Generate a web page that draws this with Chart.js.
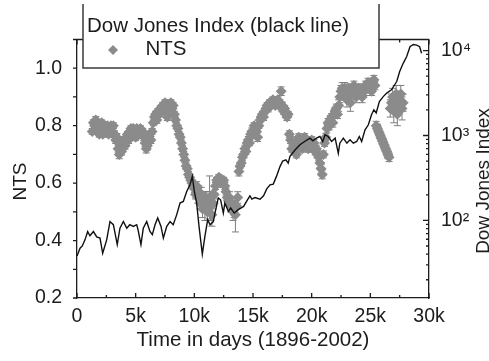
<!DOCTYPE html>
<html>
<head>
<meta charset="utf-8">
<script src="https://cdn.jsdelivr.net/npm/chart.js@4/dist/chart.umd.min.js"></script>
<style>
    html, body { margin: 0; padding: 0; background: #fff; }
    #myChart { display: block; }
</style>
</head>
<body>
<canvas id="myChart" width="489" height="361"></canvas>
<script>

// Dow Jones Index (right, log axis), trading days since 1896
var dowDays = [0, 260, 450, 680, 910, 1100, 1400, 1680, 1960, 2190, 2530, 2810, 3100, 3430, 3660, 3950, 4240, 4500, 4800, 5090,
    5200, 5450, 5650, 5940, 6220, 6420, 6650, 6880, 7160, 7360, 7650, 7930, 8200, 8500, 8780, 9060, 9350, 9630, 9830, 10000,
    10200, 10400, 10680, 10900, 11140, 11340, 11620, 11760, 12040, 12240, 12470, 12600, 12900, 13100, 13400, 13750, 14200, 14500, 14740, 14900,
    15170, 15600, 15900, 16170, 16450, 16730, 17000, 17300, 17530, 17800, 18000, 18150, 18600, 19000, 19400, 19860, 20100, 20400, 20700, 20940,
    21140, 21400, 21700, 22000, 22270, 22400, 22700, 23000, 23270, 23550, 23840, 24060, 24260, 24550, 24830, 25100, 25300, 25500, 25770, 26100,
    26400, 26800, 27250, 27500, 27800, 28100, 28380, 28660, 28950, 29200, 29370];
var dowValues = [38, 47, 50, 59, 74, 66, 74, 64, 62, 41, 59, 97, 89, 52, 81, 97, 81, 89, 85, 89,
    78, 52, 81, 97, 74, 68, 89, 107, 85, 62, 85, 97, 89, 117, 160, 167, 219, 263, 330, 219,
    160, 85, 40, 65, 102, 89, 97, 122, 184, 175, 122, 160, 128, 140, 122, 134, 146, 172, 195, 178,
    186, 178, 195, 235, 262, 268, 330, 430, 500, 518, 473, 567, 679, 778, 850, 930, 866, 930, 973, 850,
    1019, 973, 850, 930, 617, 812, 930, 812, 890, 812, 850, 973, 850, 1167, 1336, 1752, 2006, 1840, 2510, 2870,
    3160, 3450, 4320, 5670, 7080, 8500, 11100, 11800, 11600, 11100, 9300];

// NTS (left axis) with error bars
var ntsDays = [1300, 1400, 1500, 1600, 1700, 1800, 1900, 2000, 2100, 2200, 2300, 2400, 2500, 2600, 2700, 2800, 2900, 3000, 3100, 3200,
    3300, 3400, 3500, 3600, 3700, 3800, 3900, 4000, 4100, 4200, 4300, 4400, 4500, 4600, 4700, 4800, 4900, 5000, 5100, 5200,
    5300, 5400, 5500, 5600, 5700, 5800, 5900, 6000, 6100, 6200, 6300, 6400, 6500, 6600, 6700, 6800, 6900, 7000, 7100, 7200,
    7300, 7400, 7500, 7600, 7700, 7800, 7900, 8000, 8100, 8200, 8300, 8400, 8500, 8600, 8700, 8800, 8900, 9000, 9100, 9200,
    9300, 9400, 9500, 9600, 9700, 9800, 9900, 10000, 10100, 10200, 10300, 10400, 10500, 10600, 10700, 10800, 10900, 11000, 11100, 11200,
    11300, 11400, 11500, 11600, 11700, 11800, 11900, 12000, 12100, 12200, 12300, 12400, 12500, 12600, 12700, 12800, 12900, 13000, 13100, 13200,
    13300, 13400, 13500, 13600, 13700, 13800, 13900, 14000, 14100, 14200, 14300, 14400, 14500, 14600, 14700, 14800, 14900, 15000, 15100, 15200,
    15300, 15400, 15500, 15600, 15700, 15800, 15900, 16000, 16100, 16200, 16300, 16400, 16500, 16600, 16700, 16800, 16900, 17000, 17100, 17200,
    17300, 17400, 17500, 17600, 17700, 17800, 17900, 18000, 18100, 18200, 18300, 18400, 18500, 18600, 18700, 18800, 18900, 19000, 19100, 19200,
    19300, 19400, 19500, 19600, 19700, 19800, 19900, 20000, 20100, 20200, 20300, 20400, 20500, 20600, 20700, 20800, 20900, 21000, 21100, 21200,
    21300, 21400, 21500, 21600, 21700, 21800, 21900, 22000, 22100, 22200, 22300, 22400, 22500, 22600, 22700, 22800, 22900, 23000, 23100, 23200,
    23300, 23400, 23500, 23600, 23700, 23800, 23900, 24000, 24100, 24200, 24300, 24400, 24500, 24600, 24700, 24800, 24900, 25000, 25100, 25200,
    25300, 25400, 25500, 25600, 25700, 25800, 25900, 26000, 26100, 26200, 26300, 26400, 26500, 26600, 26700, 26800, 26900, 27000, 27100, 27200,
    27300, 27400, 27500, 27600, 27700, 27800];
var ntsValues = [0.78, 0.81, 0.80, 0.82, 0.78, 0.80, 0.77, 0.79, 0.81, 0.77, 0.79, 0.80, 0.78, 0.80, 0.77, 0.79, 0.80, 0.78, 0.80, 0.77,
    0.75, 0.76, 0.72, 0.70, 0.73, 0.71, 0.74, 0.75, 0.73, 0.76, 0.77, 0.75, 0.78, 0.79, 0.77, 0.79, 0.78, 0.76, 0.79, 0.78,
    0.77, 0.79, 0.77, 0.78, 0.76, 0.74, 0.72, 0.73, 0.76, 0.77, 0.75, 0.78, 0.81, 0.83, 0.84, 0.82, 0.85, 0.84, 0.86, 0.85,
    0.87, 0.86, 0.88, 0.85, 0.83, 0.86, 0.87, 0.88, 0.86, 0.87, 0.84, 0.82, 0.80, 0.79, 0.77, 0.76, 0.74, 0.72, 0.70, 0.68,
    0.66, 0.65, 0.63, 0.62, 0.61, 0.60, 0.59, 0.58, 0.56, 0.59, 0.55, 0.57, 0.53, 0.56, 0.51, 0.54, 0.52, 0.55, 0.50, 0.54,
    0.55, 0.52, 0.49, 0.53, 0.56, 0.59, 0.61, 0.60, 0.62, 0.60, 0.61, 0.60, 0.61, 0.59, 0.57, 0.55, 0.54, 0.55, 0.52, 0.53,
    0.50, 0.51, 0.49, 0.52, 0.55, 0.64, 0.66, 0.67, 0.69, 0.70, 0.72, 0.71, 0.74, 0.75, 0.74, 0.77, 0.78, 0.77, 0.80, 0.79,
    0.78, 0.76, 0.80, 0.82, 0.83, 0.84, 0.83, 0.85, 0.86, 0.87, 0.86, 0.88, 0.87, 0.88, 0.89, 0.88, 0.87, 0.88, 0.89, 0.87,
    0.88, 0.92, 0.87, 0.85, 0.86, 0.84, 0.83, 0.84, 0.77, 0.75, 0.72, 0.74, 0.71, 0.73, 0.70, 0.74, 0.76, 0.73, 0.75, 0.72,
    0.74, 0.76, 0.73, 0.75, 0.72, 0.74, 0.73, 0.75, 0.72, 0.74, 0.71, 0.72, 0.70, 0.69, 0.67, 0.65, 0.63, 0.70, 0.74, 0.76,
    0.79, 0.81, 0.80, 0.82, 0.83, 0.81, 0.84, 0.85, 0.86, 0.84, 0.87, 0.90, 0.92, 0.93, 0.91, 0.93, 0.92, 0.89, 0.93, 0.92,
    0.88, 0.91, 0.93, 0.94, 0.92, 0.90, 0.92, 0.93, 0.91, 0.92, 0.90, 0.93, 0.92, 0.94, 0.93, 0.95, 0.93, 0.94, 0.92, 0.95,
    0.96, 0.94, 0.80, 0.79, 0.78, 0.77, 0.76, 0.75, 0.74, 0.73, 0.72, 0.71, 0.70, 0.69, 0.86, 0.88, 0.90, 0.85, 0.88, 0.91,
    0.84, 0.87, 0.89, 0.91, 0.86, 0.88];
var ntsErrors = [0.010, 0.010, 0.010, 0.012, 0.010, 0.010, 0.010, 0.010, 0.010, 0.010, 0.012, 0.010, 0.010, 0.010, 0.010, 0.010, 0.010, 0.010, 0.010, 0.012,
    0.012, 0.012, 0.012, 0.015, 0.012, 0.012, 0.012, 0.010, 0.012, 0.010, 0.010, 0.012, 0.010, 0.010, 0.012, 0.010, 0.010, 0.012, 0.010, 0.010,
    0.012, 0.010, 0.012, 0.010, 0.012, 0.012, 0.015, 0.015, 0.010, 0.010, 0.012, 0.010, 0.010, 0.010, 0.010, 0.012, 0.010, 0.010, 0.010, 0.012,
    0.010, 0.010, 0.010, 0.010, 0.012, 0.010, 0.010, 0.010, 0.012, 0.010, 0.010, 0.010, 0.010, 0.010, 0.010, 0.010, 0.010, 0.010, 0.010, 0.010,
    0.010, 0.010, 0.010, 0.010, 0.010, 0.010, 0.012, 0.012, 0.015, 0.015, 0.020, 0.020, 0.020, 0.025, 0.030, 0.030, 0.050, 0.020, 0.030, 0.020,
    0.075, 0.050, 0.040, 0.020, 0.015, 0.012, 0.010, 0.010, 0.010, 0.010, 0.010, 0.010, 0.010, 0.012, 0.012, 0.015, 0.015, 0.020, 0.020, 0.020,
    0.030, 0.030, 0.060, 0.030, 0.020, 0.015, 0.010, 0.010, 0.012, 0.010, 0.012, 0.010, 0.010, 0.012, 0.010, 0.010, 0.012, 0.010, 0.010, 0.012,
    0.010, 0.015, 0.010, 0.010, 0.010, 0.010, 0.012, 0.010, 0.010, 0.010, 0.012, 0.010, 0.010, 0.012, 0.010, 0.010, 0.010, 0.012, 0.010, 0.010,
    0.010, 0.015, 0.012, 0.010, 0.010, 0.012, 0.012, 0.010, 0.012, 0.012, 0.012, 0.012, 0.012, 0.012, 0.012, 0.012, 0.012, 0.012, 0.012, 0.012,
    0.012, 0.012, 0.012, 0.012, 0.012, 0.012, 0.012, 0.012, 0.012, 0.012, 0.012, 0.012, 0.012, 0.012, 0.015, 0.015, 0.015, 0.012, 0.012, 0.012,
    0.015, 0.015, 0.015, 0.015, 0.012, 0.015, 0.015, 0.015, 0.015, 0.015, 0.020, 0.020, 0.020, 0.020, 0.020, 0.020, 0.020, 0.025, 0.015, 0.020,
    0.030, 0.020, 0.015, 0.015, 0.020, 0.020, 0.020, 0.015, 0.015, 0.015, 0.020, 0.015, 0.015, 0.015, 0.015, 0.015, 0.015, 0.015, 0.015, 0.015,
    0.015, 0.015, 0.015, 0.015, 0.015, 0.015, 0.015, 0.015, 0.015, 0.015, 0.015, 0.015, 0.015, 0.015, 0.030, 0.030, 0.030, 0.040, 0.030, 0.030,
    0.040, 0.030, 0.030, 0.030, 0.040, 0.030];

// tick labels
var xTickLabels = ['0', '5k', '10k', '15k', '20k', '25k', '30k'];
var dowTickLabels = ['10\u00B2', '10\u00B3', '10\u2074']; // 100, 1000, 10000

var fontFamily = "'Liberation Sans', Arial, Helvetica, sans-serif";
var ink = '#1c1c1c';
var ntsGray = '#8b8b8b';

var dowPoints = dowDays.map(function(d, i) {
    return {x: d, y: dowValues[i]};
});
var ntsPoints = ntsDays.map(function(d, i) {
    return {x: d, y: ntsValues[i]};
});

// error bars under the diamonds
var errorBars = {
    id: 'errorBars',
    beforeDatasetsDraw: function(chart) {
        var ctx = chart.ctx;
        var xs = chart.scales.x, ys = chart.scales.y;
        ctx.save();
        ctx.strokeStyle = '#7d7d7d';
        ctx.lineWidth = 1;
        ctx.beginPath();
        ntsDays.forEach(function(d, i) {
            var px = xs.getPixelForValue(d);
            var top = ys.getPixelForValue(ntsValues[i] + ntsErrors[i]);
            var bottom = ys.getPixelForValue(ntsValues[i] - ntsErrors[i]);
            ctx.moveTo(px, top); ctx.lineTo(px, bottom);
            ctx.moveTo(px - 3.5, top); ctx.lineTo(px + 3.5, top);
            ctx.moveTo(px - 3.5, bottom); ctx.lineTo(px + 3.5, bottom);
        });
        ctx.stroke();
        ctx.restore();
    }
};

// box frame, tick marks, side titles and the legend box
var frameAndLegend = {
    id: 'frameAndLegend',
    afterDraw: function(chart) {
        var ctx = chart.ctx, a = chart.chartArea;
        var xs = chart.scales.x, ys = chart.scales.y, y2 = chart.scales.y2;
        ctx.save();
        ctx.strokeStyle = ink;
        ctx.lineWidth = 1.3;
        ctx.beginPath();
        ctx.moveTo(a.left, a.top); ctx.lineTo(a.right, a.top);
        xs.ticks.forEach(function(t) {
            var px = xs.getPixelForValue(t.value);
            var len = t.value % 5000 === 0 ? 5 : 3;
            ctx.moveTo(px, a.bottom); ctx.lineTo(px, a.bottom - len);
            ctx.moveTo(px, a.top); ctx.lineTo(px, a.top + len);
        });
        ys.ticks.forEach(function(t) {
            var py = ys.getPixelForValue(t.value);
            ctx.moveTo(a.left, py); ctx.lineTo(a.left - 4, py);
        });
        for (var dec = 1; dec <= 4; dec++) {
            for (var m = 1; m <= 9; m++) {
                var v = m * Math.pow(10, dec);
                if (v < y2.min || v > y2.max) continue;
                var py2 = y2.getPixelForValue(v);
                ctx.moveTo(a.right, py2); ctx.lineTo(a.right - (m === 1 ? 6 : 3), py2);
            }
        }
        ctx.stroke();

        // axis titles on both sides, read bottom to top
        ctx.fillStyle = ink;
        ctx.font = '19px ' + fontFamily;
        ctx.textAlign = 'center';
        ctx.textBaseline = 'alphabetic';
        ctx.save();
        ctx.translate(26, 181.5);
        ctx.rotate(-Math.PI / 2);
        ctx.fillText('NTS', 0, 0);
        ctx.restore();
        ctx.save();
        ctx.translate(488.5, 181);
        ctx.rotate(-Math.PI / 2);
        ctx.fillText('Dow Jones Index', 0, 0);
        ctx.restore();

        // legend box
        ctx.fillStyle = '#fff';
        ctx.fillRect(83, 4, 296, 64);
        ctx.strokeStyle = '#3a3a3a';
        ctx.lineWidth = 1.5;
        ctx.beginPath();
        ctx.moveTo(83, 4); ctx.lineTo(83, 68); ctx.lineTo(379, 68); ctx.lineTo(379, 4);
        ctx.stroke();
        ctx.fillStyle = ink;
        ctx.font = '20.5px ' + fontFamily;
        ctx.textAlign = 'left';
        ctx.fillText('Dow Jones Index (black line)', 87, 31.5);
        ctx.fillText('NTS', 145.5, 55);
        ctx.fillStyle = ntsGray;
        ctx.beginPath();
        ctx.moveTo(113, 45); ctx.lineTo(118, 50); ctx.lineTo(113, 55); ctx.lineTo(108, 50);
        ctx.closePath();
        ctx.fill();
        ctx.restore();
    }
};

var ctx = document.getElementById('myChart').getContext('2d');
new Chart(ctx, {
    type: 'scatter',
    plugins: [errorBars, frameAndLegend],
    data: {
        datasets: [
            {
                type: 'line',
                label: 'Dow Jones Index (black line)',
                data: dowPoints,
                yAxisID: 'y2',
                borderColor: '#111',
                borderWidth: 1.4,
                pointRadius: 0,
                tension: 0,
                fill: false,
                order: 0
            },
            {
                label: 'NTS',
                data: ntsPoints,
                yAxisID: 'y',
                pointStyle: 'rectRot',
                pointRadius: 5.5,
                backgroundColor: ntsGray,
                borderColor: ntsGray,
                borderWidth: 0,
                order: 1
            }
        ]
    },
    options: {
        responsive: false,
        animation: false,
        layout: {
            padding: {top: 39.5, left: 0, right: 0, bottom: 0}
        },
        plugins: {
            legend: {display: false},
            tooltip: {enabled: false}
        },
        scales: {
            x: {
                type: 'linear',
                position: 'bottom',
                min: 0,
                max: 30000,
                afterFit: function(scale) { scale.height = 63; },
                grid: {display: false},
                border: {display: true, color: ink, width: 1.3},
                ticks: {
                    stepSize: 2500,
                    autoSkip: false,
                    maxRotation: 0,
                    padding: -1,
                    color: ink,
                    font: {family: fontFamily, size: 19.5},
                    callback: function(value) {
                        return value % 5000 === 0 ? xTickLabels[value / 5000] : '';
                    }
                },
                title: {
                    display: true,
                    text: 'Time in days (1896-2002)',
                    color: ink,
                    font: {family: fontFamily, size: 20.5},
                    padding: {top: 0, bottom: 8}
                }
            },
            y: {
                type: 'linear',
                position: 'left',
                min: 0.2,
                max: 1.1,
                afterFit: function(scale) { scale.width = 77; },
                grid: {display: false},
                border: {display: true, color: ink, width: 1.3},
                ticks: {
                    stepSize: 0.1,
                    autoSkip: false,
                    padding: 7,
                    color: ink,
                    font: {family: fontFamily, size: 19.5},
                    callback: function(value) {
                        var tenth = Math.round(value * 10);
                        return tenth % 2 === 0 && tenth <= 10 ? (tenth / 10).toFixed(1) : '';
                    }
                }
            },
            y2: {
                type: 'logarithmic',
                position: 'right',
                min: 12.2,
                max: 13500,
                afterFit: function(scale) { scale.width = 60; },
                grid: {display: false},
                border: {display: true, color: ink, width: 1.3},
                ticks: {
                    autoSkip: false,
                    padding: 4,
                    color: ink,
                    font: {family: fontFamily, size: 19.5},
                    callback: function(value) {
                        var p = Math.log10(value);
                        if (Math.abs(p - Math.round(p)) < 1e-9 && p >= 2 && p <= 4) {
                            return dowTickLabels[Math.round(p) - 2];
                        }
                        return '';
                    }
                }
            }
        }
    }
});
</script>
</body>
</html>
